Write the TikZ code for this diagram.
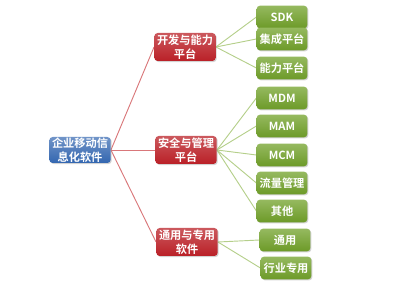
\documentclass[tikz,border=0pt]{standalone}
\usepackage{fontspec}
\setmainfont{Noto Sans CJK SC}[BoldFont={Noto Sans CJK SC Bold}]
\usetikzlibrary{shadows,backgrounds}

\definecolor{rootblue}{HTML}{3366B0}
\definecolor{midred}{HTML}{BA2027}
\definecolor{leafgreen}{HTML}{72A22A}
\definecolor{redline}{HTML}{D9777A}
\definecolor{greenline}{HTML}{B5CF8B}

\begin{document}
\begin{tikzpicture} [x=0.75pt,y=-0.75pt,
  box/.style={rounded corners=2.5pt, text=white, font=\fontsize{8.4}{10.5}\selectfont\bfseries,
    align=center, inner sep=0pt, drop shadow={opacity=0.35, shadow xshift=0.8pt, shadow yshift=-0.8pt}},
  rootbox/.style={box, top color=rootblue!70!white, bottom color=rootblue, minimum width=46pt, minimum height=19.5pt},
  midbox/.style={box, top color=midred!75!white, bottom color=midred, minimum width=46pt, minimum height=21pt},
  leafbox/.style={box, top color=leafgreen!75!white, bottom color=leafgreen!95!black, minimum width=38pt, minimum height=17pt},
  redlink/.style={redline, line width=0.7pt},
  greenlink/.style={greenline, line width=0.7pt}]
\useasboundingbox (0,0) rectangle (400,288);

% leaves
\node [leafbox] (sdk)   at (282,17)  {SDK};
\node [leafbox] (jicheng) at (282,39) {集成平台};
\node [leafbox] (nengli) at (282,68) {能力平台};
\node [leafbox] (mdm)   at (282,98)  {MDM};
\node [leafbox] (mam)   at (282,126) {MAM};
\node [leafbox] (mcm)   at (282,155) {MCM};
\node [leafbox] (liuliang) at (282,183) {流量管理};
\node [leafbox] (qita)  at (282,211) {其他};
\node [leafbox] (tongyong) at (285,240) {通用};
\node [leafbox] (hangye) at (286,268) {行业专用};

% middle level
\node [midbox] (kaifa)  at (185,47)  {开发与能力\\平台};
\node [midbox] (anquan) at (186,150) {安全与管理\\平台};
\node [midbox] (ruanjian) at (187,242) {通用与专用\\软件};

% root
\node [rootbox] (root) at (80,150) {企业移动信\\息化软件};

\begin{scope}[on background layer]
\draw [redlink] (root.east) -- (kaifa.west);
\draw [redlink] (root.east) -- (anquan.west);
\draw [redlink] (root.east) -- (ruanjian.west);

\foreach \leaf in {sdk,jicheng,nengli}
  \draw [greenlink] (kaifa.east) -- (\leaf.west);
\foreach \leaf in {mdm,mam,mcm,liuliang,qita}
  \draw [greenlink] (anquan.east) -- (\leaf.west);
\foreach \leaf in {tongyong,hangye}
  \draw [greenlink] (ruanjian.east) -- (\leaf.west);
\end{scope}
\end{tikzpicture}
\end{document}
